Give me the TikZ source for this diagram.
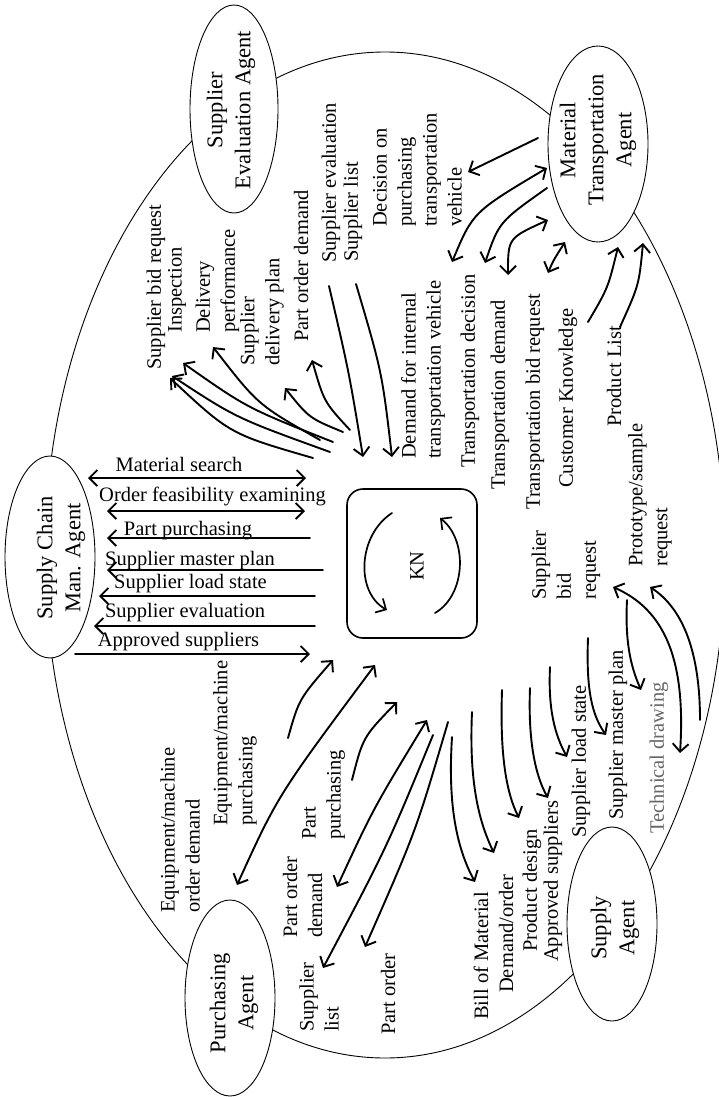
\documentclass[tikz,border=0pt]{standalone}
\usepackage{fontspec}
\setmainfont{Liberation Serif}
\usetikzlibrary{arrows.meta,shapes.geometric}
\begin{document}
\begin{tikzpicture}[x=1pt,y=-1pt,
  lbl/.style={font=\fontsize{20.5}{25}\selectfont, inner sep=0pt, align=left},
  vlbl/.style={lbl, rotate=90, anchor=west},
  hlbl/.style={lbl, anchor=base},
  agent/.style={draw, ellipse, fill=white, line width=0.9pt, inner sep=0pt},
  agenttext/.style={font=\fontsize{22.5}{28}\selectfont, rotate=90, align=center, inner sep=0pt},
  flow/.style={line width=1.9pt, line cap=round, -{Straight Barb[length=8pt,width=16pt]}},
  twoway/.style={line width=1.9pt, line cap=round, {Straight Barb[length=8pt,width=16pt]}-{Straight Barb[length=8pt,width=16pt]}},
]
\useasboundingbox (0,0) rectangle (719,1097);
\fill[white] (0,0) rectangle (719,1097);
\clip (0,0) rectangle (719,1097);

% system boundary
\draw[line width=0.9pt] (385,555) ellipse [x radius=340, y radius=503];

% agents
\node[agent, minimum width=88pt, minimum height=208pt] (sea) at (234,109) {};
\node[agenttext] (sea-t) at (231,110) {Supplier\\Evaluation Agent};
\node[agent, minimum width=100pt, minimum height=196pt] (mta) at (598,144) {};
\node[agenttext] (mta-t) at (598,140) {Material\\Transportation\\Agent};
\node[agent, minimum width=90pt, minimum height=202pt] (scm) at (50,557) {};
\node[agenttext] (scm-t) at (61,558) {Supply Chain\\Man. Agent};
\node[agent, minimum width=90pt, minimum height=196pt] (pa) at (230,998) {};
\node[agenttext] (pa-t) at (234,1003) {Purchasing\\Agent};
\node[agent, minimum width=90pt, minimum height=194pt] (sa) at (612,924) {};
\node[agenttext] (sa-t) at (615,928) {Supply\\Agent};

% knowledge network
\node[draw, rounded corners=16pt, line width=1.6pt, minimum width=130pt, minimum height=149pt] (kn) at (412,563.5) {};
\node[lbl, rotate=90] (kn-t) at (417,566) {KN};
\coordinate (kn-a1) at (392,513); \coordinate (kn-a2) at (387,610);
\coordinate (kn-b1) at (435,613); \coordinate (kn-b2) at (440,518);
\draw[flow, line width=1.7pt] (kn-a1) .. controls (358,535) and (355,592) .. (kn-a2);
\draw[flow, line width=1.7pt] (kn-b1) .. controls (466,595) and (468,540) .. (kn-b2);

% free ends of the flows
\coordinate (ms-l) at (88,478);  \coordinate (ms-r) at (306,478);
\coordinate (of-l) at (107,511); \coordinate (of-r) at (305,511);
\coordinate (pp-r) at (310,538); \coordinate (pp-l) at (107,538);
\coordinate (mp-r) at (323,570); \coordinate (mp-l) at (107,570);
\coordinate (ls-r) at (315,596); \coordinate (ls-l) at (99,596);
\coordinate (se-r) at (315,626); \coordinate (se-l) at (94,626);
\coordinate (as-l) at (75,654);  \coordinate (as-r) at (310,654);

\coordinate (t1a) at (313,458); \coordinate (t1b) at (170,378);
\coordinate (t2a) at (330,452); \coordinate (t2b) at (172,376);
\coordinate (t3a) at (333,442); \coordinate (t3b) at (183,363);
\coordinate (t4a) at (320,440); \coordinate (t4b) at (213,347);
\coordinate (t5a) at (343,432); \coordinate (t5b) at (285,388);
\coordinate (t6a) at (350,430); \coordinate (t6b) at (312,360);
\coordinate (d1a) at (329,286); \coordinate (d1b) at (363,457);
\coordinate (d2a) at (356,284); \coordinate (d2b) at (392,457);

\coordinate (r1a) at (538,138); \coordinate (r1b) at (468,172);
\coordinate (r2a) at (547,168); \coordinate (r2b) at (452,262);
\coordinate (r3a) at (547,188); \coordinate (r3b) at (485,263);
\coordinate (r4a) at (548,220); \coordinate (r4b) at (508,275);
\coordinate (r5a) at (565,242); \coordinate (r5b) at (548,273);
\coordinate (r6a) at (588,322); \coordinate (r6b) at (618,247);
\coordinate (r7a) at (620,327); \coordinate (r7b) at (643,243);

\coordinate (l1a) at (288,738); \coordinate (l1b) at (333,660);
\coordinate (l2a) at (375,665); \coordinate (l2b) at (237,885);
\coordinate (l3a) at (352,780); \coordinate (l3b) at (397,702);
\coordinate (l4a) at (427,720); \coordinate (l4b) at (337,887);
\coordinate (l5a) at (433,735); \coordinate (l5b) at (323,968);
\coordinate (l6a) at (448,722); \coordinate (l6b) at (365,947);
\coordinate (l7a) at (452,737); \coordinate (l7b) at (475,882);
\coordinate (l8a) at (472,712); \coordinate (l8b) at (494,853);
\coordinate (l9a) at (502,690); \coordinate (l9b) at (519,818);
\coordinate (l10a) at (530,688); \coordinate (l10b) at (548,798);
\coordinate (l11a) at (550,667); \coordinate (l11b) at (567,757);
\coordinate (l12a) at (588,638); \coordinate (l12b) at (606,735);
\coordinate (l13a) at (627,600); \coordinate (l13b) at (641,690);
\coordinate (l14a) at (613,587); \coordinate (l14b) at (680,753);
\coordinate (l15a) at (700,720); \coordinate (l15b) at (650,587);

% flows with the supply chain management agent
\draw[twoway] (ms-l) -- (ms-r);
\draw[twoway] (of-l) -- (of-r);
\draw[flow] (pp-r) -- (pp-l);
\draw[flow] (mp-r) -- (mp-l);
\draw[flow] (ls-r) -- (ls-l);
\draw[flow] (se-r) -- (se-l);
\draw[flow] (as-l) -- (as-r);

% flows with the supplier evaluation agent
\draw[flow] (t1a) .. controls (230,434) .. (t1b);
\draw[flow] (t2a) .. controls (236,418) .. (t2b);
\draw[flow] (t3a) .. controls (247,408) .. (t3b);
\draw[flow] (t4a) .. controls (258,405) .. (t4b);
\draw[flow] (t5a) .. controls (309,418) .. (t5b);
\draw[flow] (t6a) .. controls (324,402) .. (t6b);
\draw[flow] (d1a) .. controls (349,372) .. (d1b);
\draw[flow] (d2a) .. controls (382,372) .. (d2b);

% flows with the material transportation agent
\draw[flow] (r1a) -- (r1b);
\draw[twoway] (r2a) .. controls (473,212) .. (r2b);
\draw[flow] (r3a) .. controls (499,222) .. (r3b);
\draw[twoway] (r4a) .. controls (508,238) .. (r4b);
\draw[twoway] (r5a) .. controls (553,261) .. (r5b);
\draw[flow] (r6a) .. controls (608,288) .. (r6b);
\draw[flow] (r7a) .. controls (639,285) .. (r7b);

% flows with the purchasing agent
\draw[flow] (l1a) .. controls (299,699) .. (l1b);
\draw[twoway] (l2a) .. controls (278,795) .. (l2b);
\draw[flow] (l3a) .. controls (363,737) .. (l3b);
\draw[twoway] (l4a) .. controls (373,809) .. (l4b);
\draw[flow] (l5a) .. controls (387,847) .. (l5b);
\draw[flow] (l6a) .. controls (416,831) .. (l6b);

% flows with the supply agent
\draw[flow] (l7a) .. controls (448,800) and (455,845) .. (l7b);
\draw[flow] (l8a) .. controls (469,780) and (478,820) .. (l8b);
\draw[flow] (l9a) .. controls (500,750) and (505,790) .. (l9b);
\draw[flow] (l10a) .. controls (528,740) and (535,775) .. (l10b);
\draw[flow] (l11a) .. controls (548,710) and (555,735) .. (l11b);
\draw[flow] (l12a) .. controls (586,690) and (592,715) .. (l12b);
\draw[flow] (l13a) .. controls (625,640) and (630,665) .. (l13b);
\draw[twoway] (l14a) .. controls (665,610) and (686,660) .. (l14b);
\draw[flow] (l15a) .. controls (700,650) and (682,608) .. (l15b);

% horizontal labels
\node[hlbl] (h-ms) at (179,471) {Material search};
\node[hlbl] (h-of) at (212.5,501) {Order feasibility examining};
\node[hlbl] (h-pp) at (188,535) {Part purchasing};
\node[hlbl] (h-mp) at (190,565) {Supplier master plan};
\node[hlbl] (h-ls) at (190.5,588) {Supplier load state};
\node[hlbl] (h-se) at (185,617) {Supplier evaluation};
\node[hlbl] (h-as) at (178.5,646) {Approved suppliers};

% vertical labels
\node[vlbl] (v-sbr) at (156,370) {Supplier bid request};
\node[vlbl] (v-insp) at (177,333) {Inspection};
\node[vlbl] (v-dp) at (217.5,333) {Delivery\\performance};
\node[vlbl] (v-sdp) at (262,366) {Supplier\\delivery plan};
\node[vlbl] (v-pod) at (301,342) {Part order demand};
\node[vlbl] (v-sev) at (331,263) {Supplier evaluation};
\node[vlbl] (v-sl) at (353,262) {Supplier list};
\node[vlbl] (v-dec) at (417.5,227) {Decision on\\purchasing\\transportation\\vehicle};
\node[vlbl] (v-dint) at (423,459) {Demand for internal\\transportation vehicle};
\node[vlbl] (v-tdec) at (470,468) {Transportation decision};
\node[vlbl] (v-tdem) at (500,490) {Transportation demand};
\node[vlbl] (v-tbid) at (535,510) {Transportation bid request};
\node[vlbl] (v-ck) at (568,488) {Customer Knowledge};
\node[vlbl] (v-pl) at (614,427) {Product List};
\node[vlbl] (v-sbr2) at (566,600) {Supplier\\bid\\request};
\node[vlbl] (v-proto) at (650,567) {Prototype/sample\\request};
\node[vlbl] (v-sls) at (581,838) {Supplier load state};
\node[vlbl] (v-smp) at (618,820) {Supplier master plan};
\node[vlbl, text=black!60] (v-td) at (659,834) {Technical drawing};
\node[vlbl] (v-aps) at (553,962) {Approved suppliers};
\node[vlbl] (v-pd) at (532,952) {Product design};
\node[vlbl] (v-do) at (506,993) {Demand/order};
\node[vlbl] (v-bom) at (481,1020) {Bill of Material};
\node[vlbl] (v-po) at (388,1035) {Part order};
\node[vlbl] (v-spl) at (319,1032) {Supplier\\list};
\node[vlbl] (v-pod2) at (302.5,938) {Part order\\demand};
\node[vlbl] (v-pp) at (323.5,840) {Part\\purchasing};
\node[vlbl] (v-emp) at (235,826) {Equipment/machine\\purchasing};
\node[vlbl] (v-emo) at (180,913) {Equipment/machine\\order demand};
\end{tikzpicture}
\end{document}
